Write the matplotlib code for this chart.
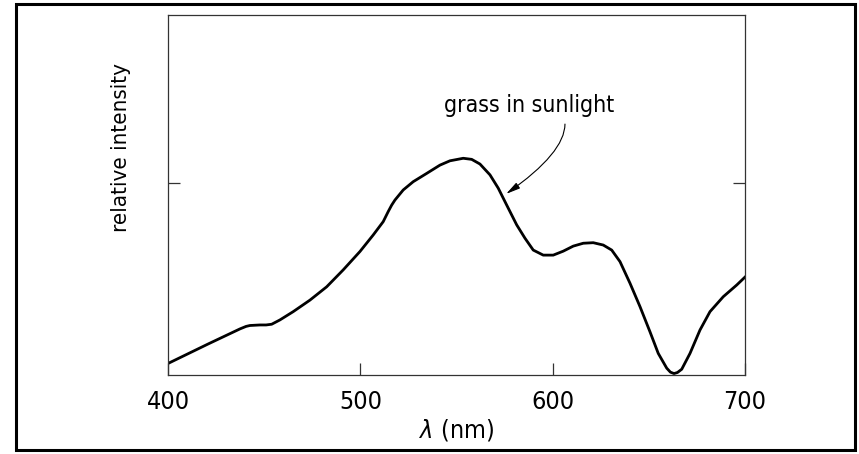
import matplotlib
matplotlib.use("Agg")
import matplotlib.pyplot as plt
from matplotlib.patches import Rectangle

# spectrum of grass in sunlight (nm, relative units)
wavelength = [400, 420.8, 437.4, 440.6, 442.6, 447.8, 451, 453.9, 458.2, 465.1,
              473.8, 482.5, 491.1, 499.8, 506.7, 511.9, 514.5, 516.3, 518, 522.3,
              527.5, 534.5, 541.4, 546.6, 553.5, 557.9, 562.2, 567.4, 571.7, 576.1,
              581.3, 585.6, 589.9, 595.1, 600.3, 605.5, 610.7, 615.9, 621.1, 626.3,
              630.7, 635, 640.2, 645.4, 650.6, 654.9, 659.3, 661.2, 663.1, 664.9,
              667.1, 671.4, 676.6, 681.8, 688.7, 695.7, 700]
intensity = [0.032, 0.086, 0.128, 0.135, 0.1375, 0.139, 0.139, 0.141, 0.153, 0.176,
             0.208, 0.245, 0.292, 0.343, 0.389, 0.426, 0.454, 0.472, 0.486, 0.514,
             0.537, 0.560, 0.583, 0.595, 0.602, 0.599, 0.586, 0.556, 0.519, 0.472,
             0.417, 0.380, 0.347, 0.333, 0.333, 0.344, 0.358, 0.366, 0.3675, 0.361,
             0.347, 0.315, 0.255, 0.190, 0.120, 0.060, 0.019, 0.008, 0.004, 0.007,
             0.016, 0.060, 0.125, 0.176, 0.2175, 0.25, 0.272]

xticks = [400, 500, 600, 700]
ytick = [0.533]

plt.rcParams['font.family'] = ['DejaVu Sans']
plt.rcParams['font.stretch'] = 'condensed'

fig = plt.figure(figsize=(8.59, 4.54), dpi=100)
ax = fig.add_axes([168/859, 1-375/454, 577/859, 360/454])

ax.plot(wavelength, intensity, color='black', lw=2.0, solid_joinstyle='round')
ax.set_xlim(400, 700)
ax.set_ylim(0, 1)
ax.set_xticks(xticks)
ax.set_yticks(ytick)
ax.set_yticklabels([])
ax.tick_params(axis='x', direction='in', length=8.5, width=0.9, color='#333333',
               labelsize=18, pad=11)
ax.tick_params(axis='y', direction='in', length=8.5, width=0.9, color='#333333',
               left=True, right=True)
for s in ax.spines.values():
    s.set_linewidth(0.9)
    s.set_color('#333333')

ax.set_xlabel(r'$\lambda$ (nm)', fontsize=18, labelpad=2)
ax.text(-0.0815, 0.632, 'relative intensity', transform=ax.transAxes,
        rotation=90, ha='center', va='center', fontsize=16)

ax.text(587.7, 0.731, 'grass in sunlight', fontsize=16.5, ha='center', va='baseline')
ax.annotate('', xy=(575.8, 0.503), xytext=(606.4, 0.697),
            arrowprops=dict(arrowstyle='-|>,head_length=0.85,head_width=0.2',
                            color='black', lw=0.8, shrinkA=0, shrinkB=0,
                            connectionstyle='angle3,angleA=90,angleB=35'))

fig.patches.append(Rectangle((16/859, 4/454), 839/859, 446/454, transform=fig.transFigure,
                             fill=False, lw=2.2, edgecolor='black'))

fig.savefig('out.png', dpi=100)
